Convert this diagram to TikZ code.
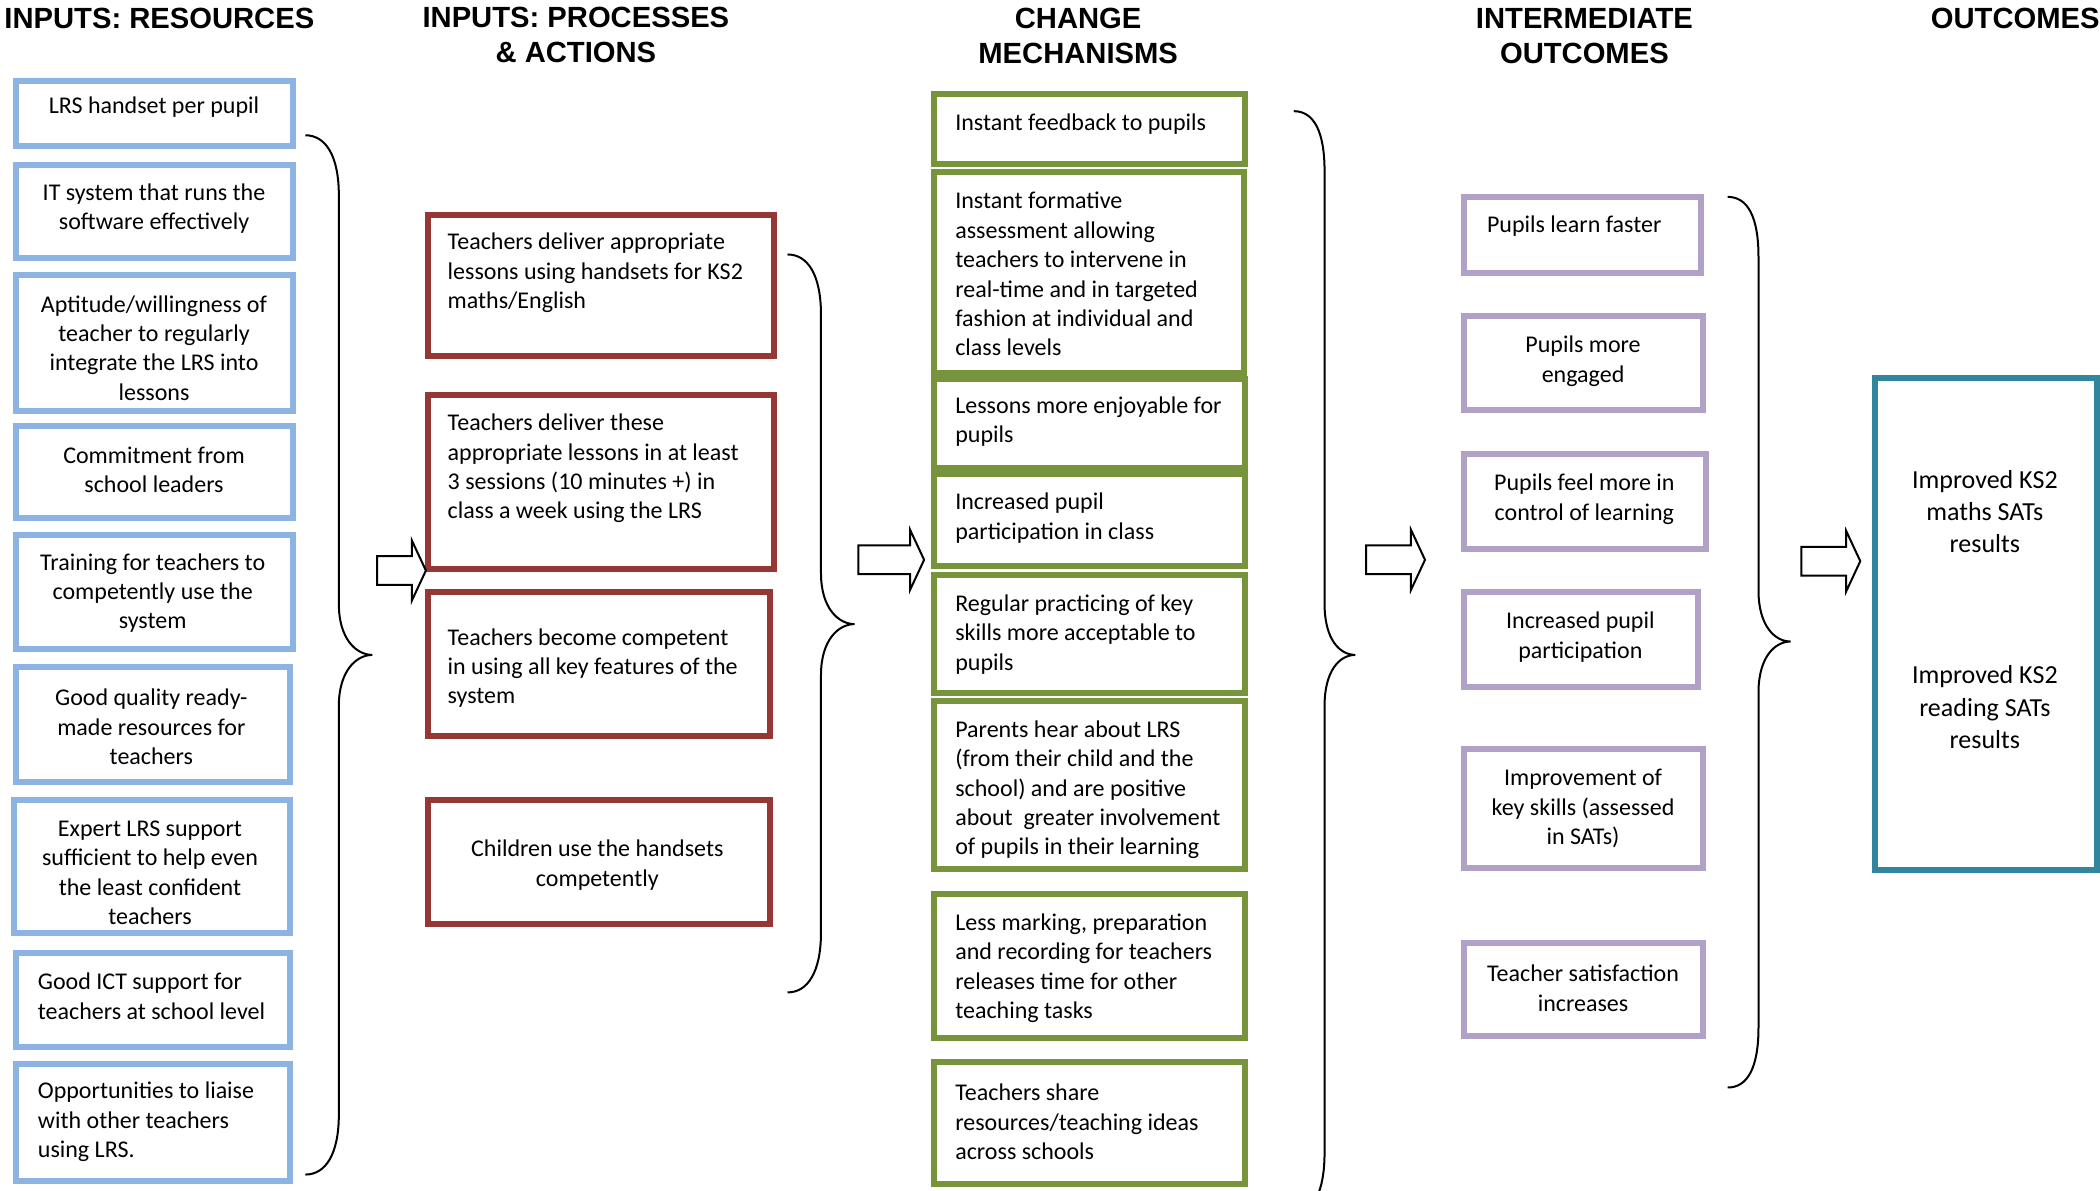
\documentclass[tikz,border=0pt]{standalone}
\usepackage{fontspec}
\setmainfont{Carlito}
\newfontfamily\headfont{Liberation Sans}
\definecolor{cblue}{HTML}{8DB3E2}
\definecolor{cred}{HTML}{953735}
\definecolor{cgreen}{HTML}{77933C}
\definecolor{cpurple}{HTML}{B2A1C7}
\definecolor{cteal}{HTML}{31859C}
\newcommand\mkbox[6]{%
  \node[#2, minimum width={(#5-#3)*0.6696pt-3pt}, minimum height={(#6-#4)*0.6696pt-3pt}, inner sep=0pt] (#1) at ({(#3+#5)/2},{(#4+#6)/2}) {};}
\newcommand\curly[6]{%
  \draw[bracestyle] (#1,#4) .. controls ({#1+15},#4) and (#2,{#4+15}) .. (#2,{#4+45})
   -- (#2,{#5-38}) .. controls (#2,{#5-12}) and ({#3-12},#5) .. (#3,#5)
   .. controls ({#3-12},#5) and (#2,{#5+12}) .. (#2,{#5+38})
   -- (#2,{#6-45}) .. controls (#2,{#6-15}) and ({#1+15},#6) .. (#1,#6);}
\newcommand\blockarrow[4]{% name, x start, x tip, y
  \coordinate (#1) at (#2,#4);
  \draw[arrowstyle] (#1) ++(0,-10.75) -- ({#3-10.5},{#4-10.75}) -- ({#3-10.5},{#4-22.5}) -- (#3,#4)
   -- ({#3-10.5},{#4+22.5}) -- ({#3-10.5},{#4+10.75}) -- (#2,{#4+10.75}) -- cycle;}
\begin{document}
\begin{tikzpicture}[x=0.6696pt,y=-0.6696pt,
  bbox/.style={draw=cblue, line width=3pt},
  rbox/.style={draw=cred, line width=3pt},
  gbox/.style={draw=cgreen, line width=3pt},
  pbox/.style={draw=cpurple, line width=3pt},
  tbox/.style={draw=cteal, line width=3pt},
  txt/.style={font=\fontsize{12}{14.7}\selectfont, inner sep=0pt, yshift=-1.2pt},
  ctxt/.style={txt, align=center},
  ltxt/.style={txt, align=left, anchor=west},
  otxt/.style={font=\fontsize{13}{16.2}\selectfont, inner sep=0pt, align=center},
  head/.style={font=\headfont\bfseries\fontsize{14.6}{17.6}\selectfont, inner sep=0pt, align=center},
  bracestyle/.style={draw=black, line width=1pt},
  arrowstyle/.style={draw=black, line width=1pt, fill=white}]
\useasboundingbox (0,0) rectangle (1568,889);

% headings
\node[head] (h1) at (119,14) {INPUTS: RESOURCES};
\node[head] (h2) at (430,26) {INPUTS: PROCESSES\\\& ACTIONS};
\node[head] (h3) at (805,27) {CHANGE\\MECHANISMS};
\node[head] (h4) at (1183,27) {INTERMEDIATE\\OUTCOMES};
\node[head, anchor=east] (h5) at (1568,14) {OUTCOMES};

% column 1: resources
\mkbox{b1}{bbox}{10}{58}{221}{111}
\mkbox{b2}{bbox}{10}{121}{221}{195}
\mkbox{b3}{bbox}{10}{203}{221}{309}
\mkbox{b4}{bbox}{10}{316}{221}{389}
\mkbox{b5}{bbox}{10}{397}{221}{487}
\mkbox{b6}{bbox}{10}{496}{219}{586}
\mkbox{b7}{bbox}{8}{595}{219}{699}
\mkbox{b8}{bbox}{10}{709}{219}{784}
\mkbox{b9}{bbox}{10}{792}{219}{884}
\node[ctxt] (tb1) at (115,78) {LRS handset per pupil};
\node[ctxt] (tb2) at (115,154) {IT system that runs the\\software effectively};
\node[ctxt] (tb3) at (115,258) {Aptitude/willingness of\\teacher to regularly\\integrate the LRS into\\lessons};
\node[ctxt] (tb4) at (115,349) {Commitment from\\school leaders};
\node[ctxt] (tb5) at (114,441) {Training for teachers to\\competently use the\\system};
\node[ctxt] (tb6) at (113,541) {Good quality ready-\\made resources for\\teachers};
\node[ctxt] (tb7) at (112,650) {Expert LRS support\\sufficient to help even\\the least confident\\teachers};
\node[ltxt] (tb8) at (28,742) {Good ICT support for\\teachers at school level};
\node[ltxt] (tb9) at (28,836) {Opportunities to liaise\\with other teachers\\using LRS.};

% column 2: processes
\mkbox{r1}{rbox}{317}{158}{580}{268}
\mkbox{r2}{rbox}{317}{293}{580}{427}
\mkbox{r3}{rbox}{317}{440}{577}{552}
\mkbox{r4}{rbox}{317}{595}{577}{692}
\node[ltxt] (tr1) at (334,202) {Teachers deliver appropriate\\lessons using handsets for KS2\\maths/English};
\node[ltxt] (tr2) at (334,348) {Teachers deliver these\\appropriate lessons in at least\\3 sessions (10 minutes +) in\\class a week using the LRS};
\node[ltxt] (tr3) at (334,497) {Teachers become competent\\in using all key features of the\\system};
\node[ctxt] (tr4) at (446,644) {Children use the handsets\\competently};

% column 3: mechanisms
\mkbox{g1}{gbox}{695}{68}{932}{125}
\mkbox{g2}{gbox}{695}{126}{931}{281}
\mkbox{g3}{gbox}{695}{281}{932}{352}
\mkbox{g4}{gbox}{695}{352}{932}{425}
\mkbox{g5}{gbox}{695}{427}{932}{520}
\mkbox{g6}{gbox}{695}{521}{932}{651}
\mkbox{g7}{gbox}{695}{665}{932}{777}
\mkbox{g8}{gbox}{695}{791}{932}{886}
\node[ltxt] (tg1) at (713,91) {Instant feedback to pupils};
\node[ltxt] (tg2) at (713,203) {Instant formative\\assessment allowing\\teachers to intervene in\\real-time and in targeted\\fashion at individual and\\class levels};
\node[ltxt] (tg3) at (713,313) {Lessons more enjoyable for\\pupils};
\node[ltxt] (tg4) at (713,385) {Increased pupil\\participation in class};
\node[ltxt] (tg5) at (713,472) {Regular practicing of key\\skills more acceptable to\\pupils};
\node[ltxt] (tg6) at (713,588) {Parents hear about LRS\\(from their child and the\\school) and are positive\\about\ \ greater involvement\\of pupils in their learning};
\node[ltxt] (tg7) at (713,721) {Less marking, preparation\\and recording for teachers\\releases time for other\\teaching tasks};
\node[ltxt] (tg8) at (713,836) {Teachers share\\resources/teaching ideas\\across schools};

% column 4: intermediate outcomes
\mkbox{p1}{pbox}{1091}{145}{1272}{206}
\mkbox{p2}{pbox}{1091}{234}{1274}{308}
\mkbox{p3}{pbox}{1091}{337}{1276}{412}
\mkbox{p4}{pbox}{1091}{440}{1270}{515}
\mkbox{p5}{pbox}{1091}{557}{1274}{650}
\mkbox{p6}{pbox}{1091}{702}{1274}{776}
\node[ltxt] (tp1) at (1110,167) {Pupils learn faster};
\node[ctxt] (tp2) at (1182,268) {Pupils more\\engaged};
\node[ctxt] (tp3) at (1183,371) {Pupils feel more in\\control of learning};
\node[ctxt] (tp4) at (1180,474) {Increased pupil\\participation};
\node[ctxt] (tp5) at (1182,602) {Improvement of\\key skills (assessed\\in SATs)};
\node[ctxt] (tp6) at (1182,736) {Teacher satisfaction\\increases};

% outcomes
\mkbox{o1}{tbox}{1398}{280}{1568}{652}
\node[otxt] (to1) at (1482,382) {Improved KS2\\maths SATs\\results};
\node[otxt] (to2) at (1482,528) {Improved KS2\\reading SATs\\results};

% braces
\curly{228}{253}{278}{101}{489}{877}
\curly{588}{613}{638}{190}{466}{741}
\curly{966}{989}{1012}{83}{489}{905}
\curly{1290}{1313}{1337}{147}{479}{812}

% block arrows
\blockarrow{a1}{281.5}{318}{426}
\blockarrow{a2}{641}{690}{418}
\blockarrow{a3}{1020}{1064}{418}
\blockarrow{a4}{1345}{1389}{419}
\end{tikzpicture}
\end{document}
